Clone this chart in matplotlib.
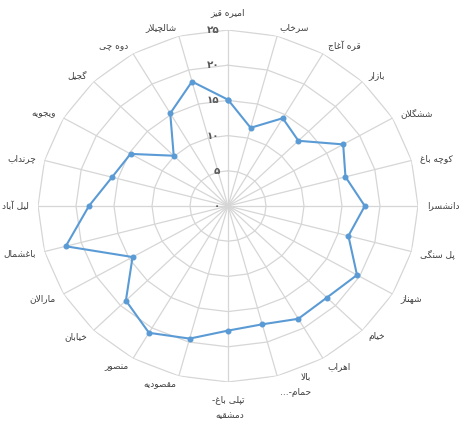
import numpy as np
import matplotlib
matplotlib.use('Agg')
import matplotlib.pyplot as plt

plt.rcParams['font.family'] = ['DejaVu Sans']

# ---------------- data ----------------
categories = ['امیره قیز', 'سرخاب', 'قره آغاج', 'بازار', 'ششگلان', 'کوچه باغ',
              'دانشسرا', 'پل سنگی', 'شهناز', 'خیام', 'اهراب', 'بالا\nحمام-...',
              'تپلی باغ-\nدمشقیه', 'مقصودیه', 'منصور', 'خیابان', 'مارالان',
              'باغشمال', 'لیل آباد', 'چرنداب', 'ویجویه', 'گجیل', 'دوه چی',
              'شالچیلار']
values = [15.1, 11.5, 14.4, 13.1, 17.5, 16.0, 18.0, 16.4, 19.6, 18.4, 18.5, 17.4,
          17.7, 19.5, 20.8, 19.0, 14.5, 22.1, 18.3, 15.8, 14.8, 10.1, 15.2, 18.3]
ring_values = [0, 5, 10, 15, 20, 25]
ring_labels = ['۰', '۵', '۱۰', '۱۵', '۲۰', '۲۵']

# ------------- minimal Persian shaping (presentation forms + RTL order) -------------
_FORMS = {
    'ا': ('\ufe8d', '\ufe8e'), 'آ': ('\ufe81', '\ufe82'), 'د': ('\ufea9', '\ufeaa'),
    'ر': ('\ufead', '\ufeae'), 'ز': ('\ufeaf', '\ufeb0'), 'و': ('\ufeed', '\ufeee'),
    'ب': ('\ufe8f', '\ufe90', '\ufe91', '\ufe92'), 'پ': ('\ufb56', '\ufb57', '\ufb58', '\ufb59'),
    'ت': ('\ufe95', '\ufe96', '\ufe97', '\ufe98'), 'ج': ('\ufe9d', '\ufe9e', '\ufe9f', '\ufea0'),
    'چ': ('\ufb7a', '\ufb7b', '\ufb7c', '\ufb7d'), 'ح': ('\ufea1', '\ufea2', '\ufea3', '\ufea4'),
    'خ': ('\ufea5', '\ufea6', '\ufea7', '\ufea8'), 'س': ('\ufeb1', '\ufeb2', '\ufeb3', '\ufeb4'),
    'ش': ('\ufeb5', '\ufeb6', '\ufeb7', '\ufeb8'), 'ص': ('\ufeb9', '\ufeba', '\ufebb', '\ufebc'),
    'ع': ('\ufec9', '\ufeca', '\ufecb', '\ufecc'), 'غ': ('\ufecd', '\ufece', '\ufecf', '\ufed0'),
    'ق': ('\ufed5', '\ufed6', '\ufed7', '\ufed8'), 'ک': ('\ufb8e', '\ufb8f', '\ufb90', '\ufb91'),
    'گ': ('\ufb92', '\ufb93', '\ufb94', '\ufb95'), 'ل': ('\ufedd', '\ufede', '\ufedf', '\ufee0'),
    'م': ('\ufee1', '\ufee2', '\ufee3', '\ufee4'), 'ن': ('\ufee5', '\ufee6', '\ufee7', '\ufee8'),
    'ه': ('\ufee9', '\ufeea', '\ufeeb', '\ufeec'), 'ی': ('\ufbfc', '\ufbfd', '\ufbfe', '\ufbff'),
}
_LAMALEF = {'ا': ('\ufefb', '\ufefc'), 'آ': ('\ufef5', '\ufef6')}


def _dual(c):
    return c in _FORMS and len(_FORMS[c]) == 4


def _shape_line(s):
    out = []
    i, n = 0, len(s)
    while i < n:
        c = s[i]
        if c not in _FORMS:
            out.append(c)
            i += 1
            continue
        pj = i > 0 and _dual(s[i - 1])
        if c == 'ل' and i + 1 < n and s[i + 1] in _LAMALEF:
            lig = _LAMALEF[s[i + 1]]
            out.append(lig[1] if pj else lig[0])
            i += 2
            continue
        nj = _dual(c) and i + 1 < n and s[i + 1] in _FORMS
        f = _FORMS[c]
        if pj and nj:
            g = f[3]
        elif pj:
            g = f[1]
        elif nj:
            g = f[2]
        else:
            g = f[0]
        out.append(g)
        i += 1
    return ''.join(reversed(out))


def shape(s):
    return '\n'.join(_shape_line(l) for l in s.split('\n'))


# ---------------- figure ----------------
W, H = 459, 423
fig = plt.figure(figsize=(W / 100, H / 100), dpi=100)
ax = fig.add_axes([38 / W, 41 / H, 380 / W, 352 / H], projection='polar')
ax.set_aspect('auto')
ax.set_theta_zero_location('N')
ax.set_theta_direction(-1)
ax.set_ylim(0, 25)
ax.grid(False)
ax.set_xticks([])
ax.set_yticks([])
ax.spines['polar'].set_visible(False)
ax.set_facecolor('none')

n = len(categories)
theta = np.arange(n) * 2 * np.pi / n
theta_c = np.append(theta, theta[0])

grid_col = '#D6D6D6'
for r in ring_values[1:]:
    ax.plot(theta_c, [r] * (n + 1), color=grid_col, lw=0.9, zorder=1)
for t in theta:
    ax.plot([t, t], [0, ring_values[-1]], color=grid_col, lw=0.9, zorder=1)

vals_c = values + values[:1]
ax.plot(theta_c, vals_c, color='#5B9BD5', lw=1.5, marker='o', markersize=3.3,
        zorder=3, clip_on=False)

# ring labels
for r, lbl in zip(ring_values, ring_labels):
    ax.annotate(lbl, xy=(0, r), xytext=(-6, 0), textcoords='offset points',
                ha='right', va='center', fontsize=7.5, fontweight='bold',
                color='#595959', annotation_clip=False)

# category labels
gap = 6.5
for t, cat in zip(theta, categories):
    s, c = np.sin(t), np.cos(t)
    if s > 0.2:
        ha = 'left'
    elif s < -0.2:
        ha = 'right'
    else:
        ha = 'center'
    if abs(s) < 0.1:
        va = 'bottom' if c > 0 else 'top'
        g = gap + 3
    else:
        va = 'center'
        g = gap
    ax.annotate(shape(cat), xy=(t, ring_values[-1]), xytext=(g * s, g * c),
                textcoords='offset points', ha=ha, va=va, fontsize=6.5,
                color='#404040', multialignment='right', annotation_clip=False,
                linespacing=2.0)

fig.savefig('out.png', dpi=100)
